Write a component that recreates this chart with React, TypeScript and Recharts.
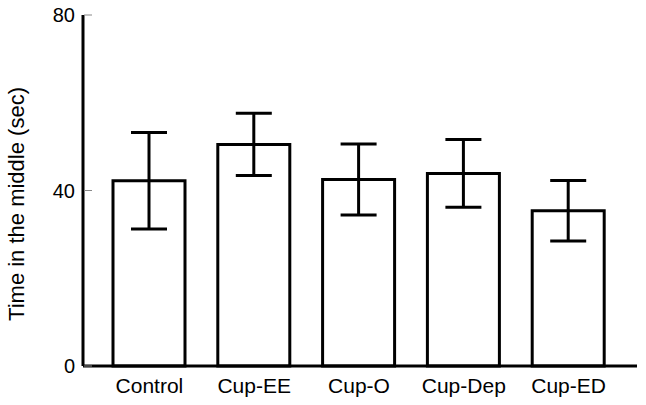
import React from "react";
import { BarChart, Bar, XAxis, YAxis, ErrorBar } from "recharts";

const groups = ["Control", "Cup-EE", "Cup-O", "Cup-Dep", "Cup-ED"];
const means = [42.2, 50.5, 42.5, 43.9, 35.4];
const errors = [11.0, 7.1, 8.1, 7.7, 6.9];
const yTicks = [0, 40, 80];

const data = groups.map((name, i) => ({ name, value: means[i], err: errors[i] }));

const font = "'Liberation Sans', Arial, sans-serif";

function YTick(props: any) {
  const { x, y, payload } = props;
  return (
    <g>
      <text x={x} y={y} dy={7} textAnchor="end" fontSize={20} fill="#000" fontFamily={font}>
        {payload.value}
      </text>
      <line x1={x + 9} y1={y} x2={x + 17} y2={y} stroke="#888" strokeWidth={1} />
    </g>
  );
}

function YLabel() {
  return (
    <text
      transform="translate(24,204) rotate(-90)"
      textAnchor="middle"
      fontSize={22}
      fill="#000"
      fontFamily={font}
    >
      Time in the middle (sec)
    </text>
  );
}

export default function App() {
  return (
    <div style={{ position: "absolute", left: 0, top: 0, background: "#fff" }}>
      <BarChart
        width={646}
        height={405}
        data={data}
        margin={{ top: 15, right: 9, left: 0, bottom: 1 }}
      >
        <XAxis
          dataKey="name"
          axisLine={{ stroke: "#000", strokeWidth: 3 }}
          tickLine={false}
          tick={{ fill: "#000", fontSize: 21, fontFamily: font }}
          tickMargin={6}
          height={38}
          padding={{ left: 14, right: 16 }}
        />
        <YAxis
          domain={[0, 80]}
          ticks={yTicks}
          width={83}
          axisLine={{ stroke: "#000", strokeWidth: 3 }}
          tickLine={false}
          tickSize={0}
          tickMargin={8}
          tick={<YTick />}
          label={{ content: <YLabel /> }}
        />
        <Bar
          dataKey="value"
          fill="#fff"
          stroke="#000"
          strokeWidth={3}
          barSize={72}
          isAnimationActive={false}
        >
          <ErrorBar dataKey="err" width={18} stroke="#000" strokeWidth={3} />
        </Bar>
      </BarChart>
    </div>
  );
}
